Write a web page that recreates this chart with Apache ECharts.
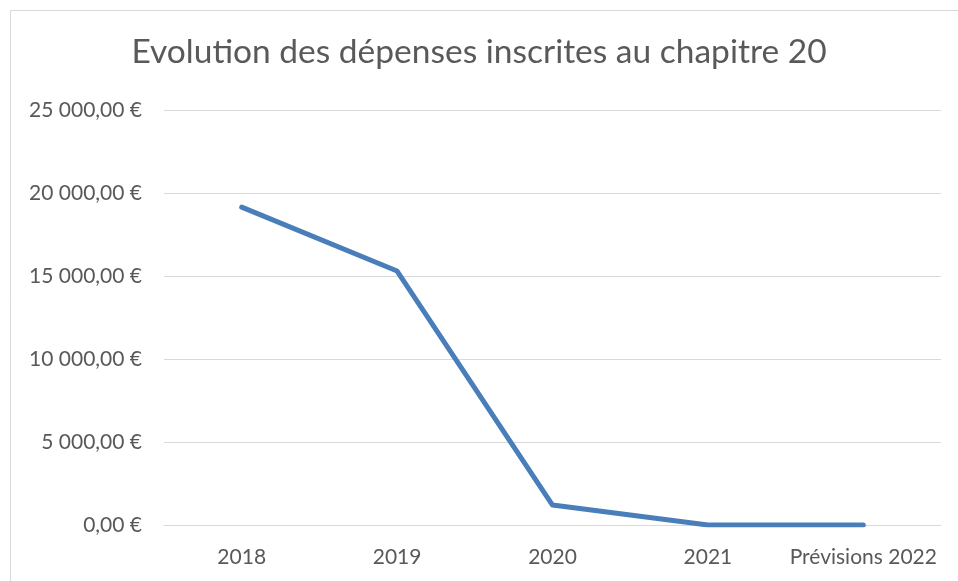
<!DOCTYPE html>
<html>
<head>
<meta charset="utf-8">
<script src="https://cdn.jsdelivr.net/npm/echarts@6/dist/echarts.min.js"></script>
<style>html,body{margin:0;padding:0;background:#fff}#c{width:958px;height:581px}</style>
</head>
<body>
<div id="c"></div>
<script>
const categories = ['2018', '2019', '2020', '2021', 'Prévisions 2022'];
const depenses = [19150, 15300, 1200, 0, 0];
const titleText = 'Evolution des dépenses inscrites au chapitre 20';

const chart = echarts.init(document.getElementById('c'));
const fontFam = 'Lato, "Open Sans", sans-serif';
function fmt(v) {
  const s = Math.round(v).toString().replace(/\B(?=(\d{3})+(?!\d))/g, ' ');
  return s + ',00 €';
}
chart.setOption({
  animation: false,
  backgroundColor: '#fff',
  graphic: [{
    type: 'rect', shape: {x: 10.5, y: 10.5, width: 1000, height: 700},
    style: {fill: 'none', stroke: '#d9d9d9', lineWidth: 1}, silent: true
  }],
  title: {
    text: titleText, left: 'center', top: 30,
    textStyle: {fontFamily: fontFam, fontSize: 33.5, fontWeight: 'normal', color: '#595959'}
  },
  grid: {left: 164, right: 17, top: 110, bottom: 56},
  xAxis: {
    type: 'category', data: categories, boundaryGap: true,
    axisLine: {show: true, lineStyle: {color: '#d9d9d9', width: 1}},
    axisTick: {show: false},
    axisLabel: {fontFamily: fontFam, fontSize: 21, color: '#595959', margin: 22, interval: 0}
  },
  yAxis: {
    type: 'value', min: 0, max: 25000, interval: 5000,
    axisLine: {show: false}, axisTick: {show: false},
    splitLine: {lineStyle: {color: '#d9d9d9', width: 1}},
    axisLabel: {fontFamily: fontFam, fontSize: 21, color: '#595959', margin: 22, formatter: fmt}
  },
  series: [{
    type: 'line', data: depenses, symbol: 'none',
    lineStyle: {color: '#4a7ebb', width: 5, cap: 'round', join: 'round'}
  }]
});
</script>
</body>
</html>
